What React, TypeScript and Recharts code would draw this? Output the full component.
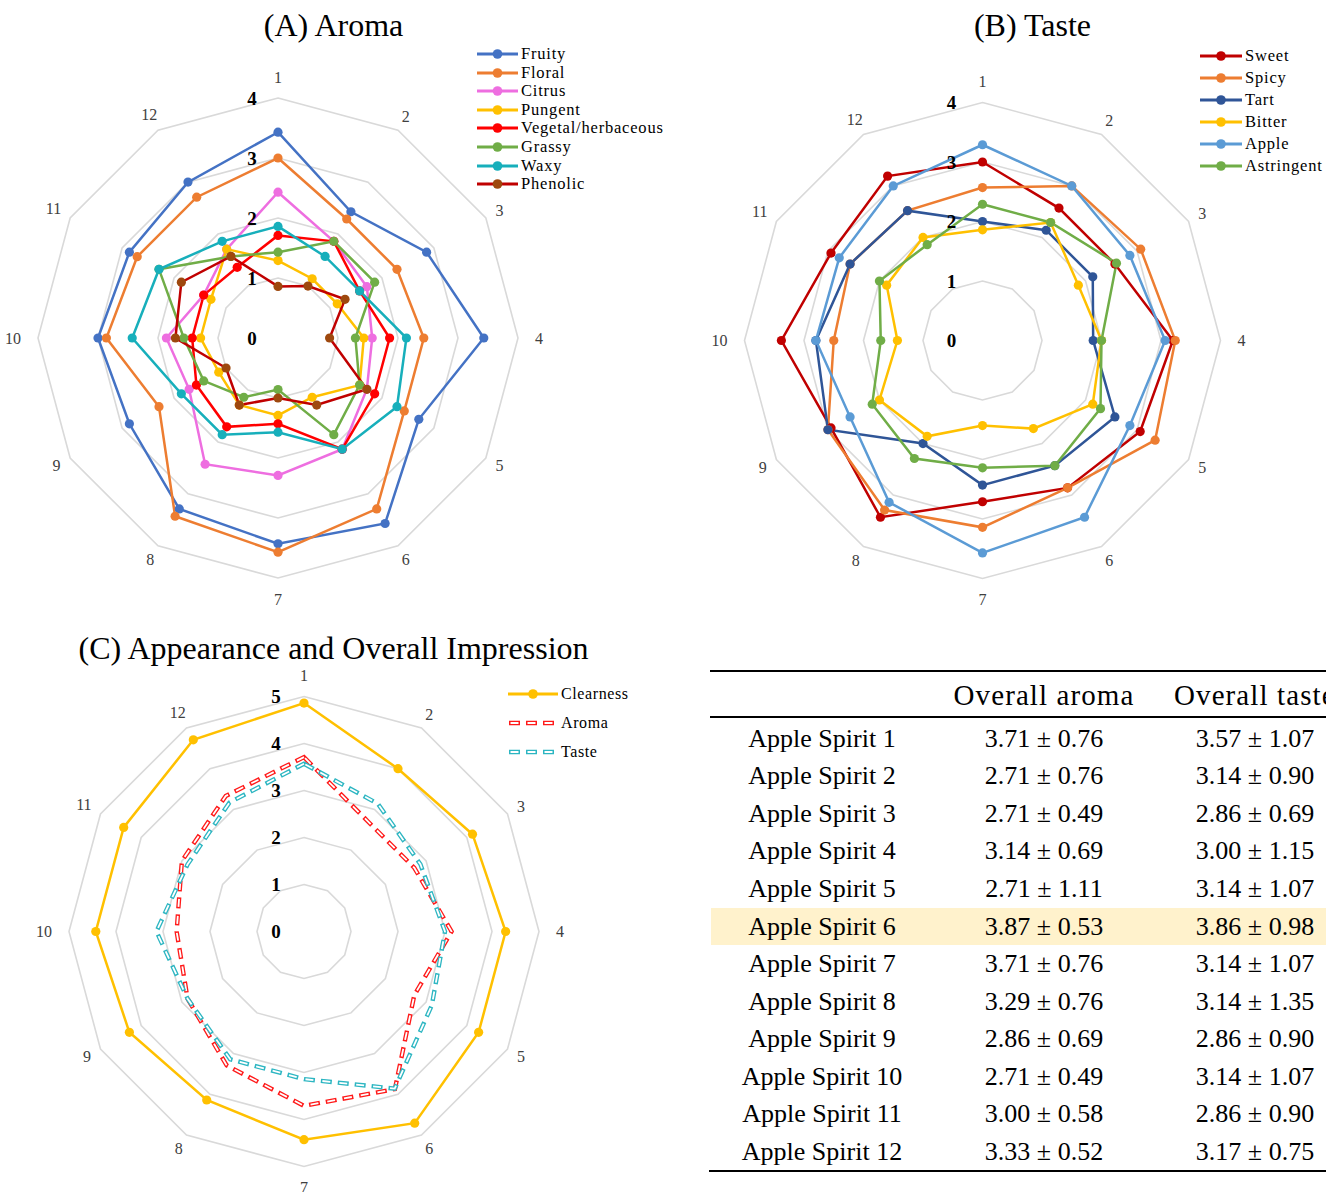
import React from "react";
import {
  PolarAngleAxis,
  PolarGrid,
  PolarRadiusAxis,
  Radar,
  RadarChart,
} from "recharts";

const FONT = "'Liberation Serif', 'Times New Roman', serif";

// spirit numbers around each radar
const spirits = ["1", "2", "3", "4", "5", "6", "7", "8", "9", "10", "11", "12"];

// (A) Aroma attributes, mean scores per spirit
const fruity = [3.43, 2.43, 2.86, 3.43, 2.71, 3.57, 3.43, 3.29, 2.86, 3.0, 2.86, 3.0];
const floral = [3.0, 2.29, 2.29, 2.43, 2.43, 3.29, 3.57, 3.43, 2.29, 2.86, 2.71, 2.71];
const citrus = [2.43, 1.86, 1.71, 1.57, 1.71, 2.14, 2.29, 2.43, 1.71, 1.86, 1.43, 1.71];
const pungent = [1.29, 1.14, 1.14, 1.43, 1.57, 1.14, 1.29, 1.29, 1.14, 1.29, 1.29, 1.71];
const vegetal = [1.71, 1.86, 1.57, 1.86, 1.86, 2.14, 1.43, 1.71, 1.57, 1.43, 1.43, 1.36];
const grassy = [1.43, 1.86, 1.86, 1.29, 1.57, 1.86, 0.86, 1.14, 1.43, 1.57, 2.29, 1.57];
const waxy = [1.86, 1.57, 1.57, 2.14, 2.29, 2.14, 1.57, 1.86, 1.86, 2.43, 2.29, 1.86];
const phenolic = [0.86, 1.0, 1.29, 0.86, 1.71, 1.29, 1.0, 1.29, 1.0, 1.71, 1.86, 1.57];

// (B) Taste attributes
const sweet = [3.0, 2.57, 2.57, 3.2, 3.06, 2.86, 2.71, 3.43, 2.94, 3.38, 2.94, 3.19];
const spicy = [2.57, 3.0, 3.07, 3.24, 3.35, 2.86, 3.14, 3.29, 3.0, 2.5, 2.57, 2.52];
const tart = [2.0, 2.14, 2.14, 1.86, 2.57, 2.43, 2.43, 2.0, 3.0, 2.8, 2.57, 2.52];
const bitter = [1.86, 2.29, 1.86, 2.0, 2.14, 1.71, 1.43, 1.86, 2.0, 1.43, 1.86, 2.0];
const apple = [3.29, 3.0, 2.86, 3.07, 2.86, 3.43, 3.57, 3.14, 2.57, 2.8, 2.78, 3.0];
const astringent = [2.29, 2.29, 2.6, 2.0, 2.29, 2.43, 2.14, 2.29, 2.14, 1.71, 2.0, 1.86];

// (C) Appearance and overall impression
const clearness = [4.86, 4.0, 4.14, 4.29, 4.29, 4.71, 4.43, 4.14, 4.29, 4.43, 4.43, 4.71];
const overallAroma = [3.71, 2.71, 2.71, 3.14, 2.71, 3.87, 3.71, 3.29, 2.86, 2.71, 3.0, 3.33];
const aromaSd = [0.76, 0.76, 0.49, 0.69, 1.11, 0.53, 0.76, 0.76, 0.69, 0.49, 0.58, 0.52];
const overallTaste = [3.57, 3.14, 2.86, 3.0, 3.14, 3.86, 3.14, 3.14, 2.86, 3.14, 2.86, 3.17];
const tasteSd = [1.07, 0.9, 0.69, 1.15, 1.07, 0.98, 1.07, 1.35, 0.9, 1.07, 0.9, 0.75];

const tableHeader = ["", "Overall aroma", "Overall taste"];
const highlightRow = 5; // Apple Spirit 6

type Series = {
  key: string;
  name: string;
  values: number[];
  stroke: string;
  dot?: string;
  dashed?: boolean;
};

const aromaSeries: Series[] = [
  { key: "fruity", name: "Fruity", values: fruity, stroke: "#4472C4", dot: "#4472C4" },
  { key: "floral", name: "Floral", values: floral, stroke: "#ED7D31", dot: "#ED7D31" },
  { key: "citrus", name: "Citrus", values: citrus, stroke: "#EE6EE0", dot: "#EE6EE0" },
  { key: "pungent", name: "Pungent", values: pungent, stroke: "#FFC000", dot: "#FFC000" },
  { key: "vegetal", name: "Vegetal/herbaceous", values: vegetal, stroke: "#FF0000", dot: "#FF0000" },
  { key: "grassy", name: "Grassy", values: grassy, stroke: "#70AD47", dot: "#70AD47" },
  { key: "waxy", name: "Waxy", values: waxy, stroke: "#17AFBB", dot: "#17AFBB" },
  { key: "phenolic", name: "Phenolic", values: phenolic, stroke: "#C00000", dot: "#9E480E" },
];

const tasteSeries: Series[] = [
  { key: "sweet", name: "Sweet", values: sweet, stroke: "#C00000", dot: "#C00000" },
  { key: "spicy", name: "Spicy", values: spicy, stroke: "#ED7D31", dot: "#ED7D31" },
  { key: "tart", name: "Tart", values: tart, stroke: "#2F5597", dot: "#2F5597" },
  { key: "bitter", name: "Bitter", values: bitter, stroke: "#FFC000", dot: "#FFC000" },
  { key: "apple", name: "Apple", values: apple, stroke: "#5B9BD5", dot: "#5B9BD5" },
  { key: "astringent", name: "Astringent", values: astringent, stroke: "#70AD47", dot: "#70AD47" },
];

const overallSeries: Series[] = [
  { key: "clearness", name: "Clearness", values: clearness, stroke: "#FFC000", dot: "#FFC000" },
  { key: "aroma", name: "Aroma", values: overallAroma, stroke: "#FF1A1A", dashed: true },
  { key: "taste", name: "Taste", values: overallTaste, stroke: "#2DB6C2", dashed: true },
];

const buildData = (series: Series[]) =>
  spirits.map((s, i) => {
    const row: Record<string, any> = { spirit: s };
    series.forEach((se) => {
      row[se.key] = se.values[i];
    });
    return row;
  });

// category labels, pushed out a bit more on the vertical/horizontal spokes (like Excel)
const angleTick = (cx: number, cy: number, r: number) => (props: any) => {
  const label = String(props.payload.value);
  const dx = props.x - cx;
  const dy = props.y - cy;
  const d = Math.hypot(dx, dy) || 1;
  const ux = dx / d;
  const uy = dy / d;
  const cos2 = ux * ux - uy * uy;
  const w = label.length * 8;
  const off = r + 8 + 9 * cos2 * cos2 + Math.abs(ux) * (w / 2) + Math.abs(uy) * 4;
  return (
    <text
      x={cx + ux * off}
      y={cy + uy * off}
      textAnchor="middle"
      dominantBaseline="central"
      fontFamily={FONT}
      fontSize={16}
      fill="#404040"
    >
      {label}
    </text>
  );
};

const radiusTick = (dx: number) => (props: any) => (
  <text
    x={props.x + dx}
    y={props.y}
    textAnchor="middle"
    dominantBaseline="central"
    fontFamily={FONT}
    fontSize={19}
    fontWeight="bold"
    fill="#000"
  >
    {props.payload.value}
  </text>
);

// double-line dashes (hollow look) used in panel C
const hollowDash = (color: string) => (props: any) => {
  const pts = (props.points || []).map((p: any) => `${p.x},${p.y}`).join(" ");
  return (
    <g>
      <polygon points={pts} fill="none" stroke={color} strokeWidth={4.4} strokeDasharray="11 6" />
      <polygon
        points={pts}
        fill="none"
        stroke="#fff"
        strokeWidth={1.8}
        strokeDasharray="8 9"
        strokeDashoffset={-1.5}
      />
    </g>
  );
};

function RadarPanel(props: {
  series: Series[];
  left: number;
  top: number;
  width: number;
  height: number;
  cx: number;
  cy: number;
  r: number;
  max: number;
  labelDx: number;
}) {
  const { series, left, top, width, height, cx, cy, r, max, labelDx } = props;
  const data = buildData(series);
  return (
    <div style={{ position: "absolute", left, top }}>
      <RadarChart
        width={width}
        height={height}
        data={data}
        cx={cx}
        cy={cy}
        outerRadius={r}
        margin={{ top: 0, right: 0, bottom: 0, left: 0 }}
      >
        <PolarGrid radialLines={false} stroke="#D9D9D9" strokeWidth={1.6} />
        <PolarAngleAxis
          dataKey="spirit"
          tick={angleTick(cx, cy, r)}
          tickLine={false}
          axisLine={false}
          tickSize={20}
        />
        <PolarRadiusAxis
          angle={90}
          domain={[0, max]}
          tickCount={max + 1}
          axisLine={false}
          tick={radiusTick(labelDx)}
        />
        {series.map((s) =>
          s.dashed ? (
            <Radar
              key={s.key}
              dataKey={s.key}
              name={s.name}
              stroke={s.stroke}
              fill="none"
              shape={hollowDash(s.stroke)}
              dot={false}
              isAnimationActive={false}
            />
          ) : (
            <Radar
              key={s.key}
              dataKey={s.key}
              name={s.name}
              stroke={s.stroke}
              strokeWidth={2.5}
              fill="none"
              dot={{ r: 4.6, fill: s.dot, stroke: s.dot, strokeWidth: 0 }}
              isAnimationActive={false}
            />
          )
        )}
      </RadarChart>
    </div>
  );
}

function LegendBox(props: {
  series: Series[];
  left: number;
  top: number;
  gap: number;
  lineW: number;
  fontSize: number;
  spacing: number;
}) {
  const { series, left, top, gap, lineW, fontSize, spacing } = props;
  return (
    <div style={{ position: "absolute", left, top }}>
      {series.map((s, i) => (
        <div
          key={s.key}
          style={{
            position: "absolute",
            top: i * gap - 10,
            height: 20,
            display: "flex",
            alignItems: "center",
            whiteSpace: "nowrap",
          }}
        >
          <svg width={lineW + 3} height={20} style={{ display: "block" }}>
            {s.dashed ? (
              <g>
                <line x1={1} y1={10} x2={lineW} y2={10} stroke={s.stroke} strokeWidth={4.4} strokeDasharray="11 6" />
                <line
                  x1={1}
                  y1={10}
                  x2={lineW}
                  y2={10}
                  stroke="#fff"
                  strokeWidth={1.8}
                  strokeDasharray="8 9"
                  strokeDashoffset={-1.5}
                />
              </g>
            ) : (
              <g>
                <line x1={0} y1={10} x2={lineW} y2={10} stroke={s.stroke} strokeWidth={2.8} />
                <circle cx={lineW / 2} cy={10} r={4.8} fill={s.dot} />
              </g>
            )}
          </svg>
          <span
            style={{
              fontFamily: FONT,
              fontSize,
              letterSpacing: spacing,
              color: "#000",
              lineHeight: "20px",
            }}
          >
            {s.name}
          </span>
        </div>
      ))}
    </div>
  );
}

const Title = ({ text, left, width, top }: { text: string; left: number; width: number; top: number }) => (
  <div
    style={{
      position: "absolute",
      left,
      width,
      top,
      textAlign: "center",
      fontFamily: FONT,
      fontSize: 32,
      lineHeight: "26px",
      height: 26,
      color: "#000",
      whiteSpace: "nowrap",
    }}
  >
    {text}
  </div>
);

function ScoreTable() {
  const rowY0 = 738.7;
  const rowStep = 37.57;
  const cell = (text: string, cx: number, cy: number, size: number, key: string, spacing = 0) => (
    <div
      key={key}
      style={{
        position: "absolute",
        left: cx - 150,
        width: 300,
        top: cy - 16,
        height: 32,
        lineHeight: "32px",
        textAlign: "center",
        fontFamily: FONT,
        fontSize: size,
        letterSpacing: spacing,
        whiteSpace: "nowrap",
        color: "#000",
      }}
    >
      {text}
    </div>
  );
  const bandTop = rowY0 + highlightRow * rowStep - 18.5;
  return (
    <div>
      <div style={{ position: "absolute", left: 711, top: bandTop, width: 620, height: 37, background: "#FFF2CC" }} />
      <div style={{ position: "absolute", left: 710, top: 670, width: 620, height: 2, background: "#000" }} />
      <div style={{ position: "absolute", left: 710, top: 716, width: 620, height: 2, background: "#000" }} />
      <div style={{ position: "absolute", left: 709, top: 1169.5, width: 620, height: 2, background: "#000" }} />
      {cell(tableHeader[1], 1044, 695, 29, "h1", 1.1)}
      <div
        style={{
          position: "absolute",
          left: 1174,
          top: 679,
          height: 32,
          lineHeight: "32px",
          fontFamily: FONT,
          fontSize: 29,
          letterSpacing: 1.1,
          whiteSpace: "nowrap",
        }}
      >
        {tableHeader[2]}
      </div>
      {spirits.map((s, i) => {
        const y = rowY0 + i * rowStep;
        return (
          <React.Fragment key={s}>
            {cell(`Apple Spirit ${s}`, 822, y, 26, `n${i}`)}
            {cell(`${overallAroma[i].toFixed(2)} ± ${aromaSd[i].toFixed(2)}`, 1044, y, 26, `a${i}`)}
            {cell(`${overallTaste[i].toFixed(2)} ± ${tasteSd[i].toFixed(2)}`, 1255, y, 26, `t${i}`)}
          </React.Fragment>
        );
      })}
    </div>
  );
}

export default function App() {
  return (
    <div
      style={{
        position: "relative",
        width: 1326,
        height: 1192,
        overflow: "hidden",
        background: "#fff",
      }}
    >
      <style>{"body{margin:0;}"}</style>

      <Title text="(A) Aroma" left={0} width={667} top={12} />
      <Title text="(B) Taste" left={700} width={665} top={12} />
      <Title text="(C) Appearance and Overall Impression" left={0} width={667} top={635} />

      <RadarPanel
        series={aromaSeries}
        left={0}
        top={0}
        width={680}
        height={620}
        cx={278}
        cy={338}
        r={240}
        max={4}
        labelDx={-26}
      />
      <LegendBox series={aromaSeries} left={477} top={54} gap={18.6} lineW={41} fontSize={16.5} spacing={0.8} />

      <RadarPanel
        series={tasteSeries}
        left={680}
        top={0}
        width={646}
        height={620}
        cx={302.5}
        cy={340.5}
        r={238}
        max={4}
        labelDx={-31}
      />
      <LegendBox series={tasteSeries} left={1200} top={56} gap={21.9} lineW={42} fontSize={16.5} spacing={0.8} />

      <RadarPanel
        series={overallSeries}
        left={0}
        top={640}
        width={690}
        height={552}
        cx={304}
        cy={291.5}
        r={235}
        max={5}
        labelDx={-28}
      />
      <LegendBox series={overallSeries} left={508} top={694} gap={29} lineW={50} fontSize={16} spacing={0.6} />

      <ScoreTable />
    </div>
  );
}
